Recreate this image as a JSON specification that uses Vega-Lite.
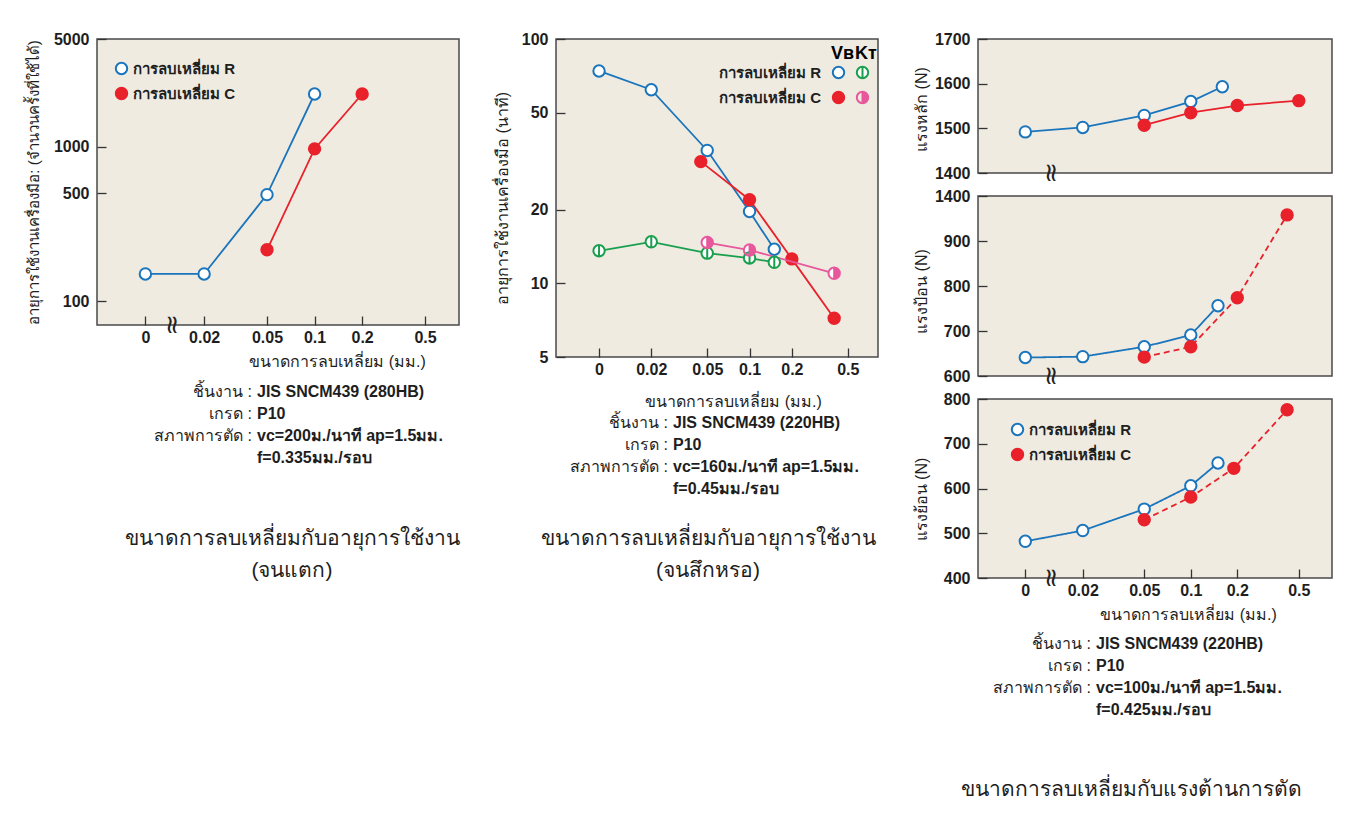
{
  "$schema": "https://vega.github.io/schema/vega-lite/v6.json",
  "background": "white",
  "padding": {"left": 25, "top": 30, "right": 5, "bottom": 5},
  "config": {
    "font": "Liberation Sans",
    "view": {"fill": "#EFEBE1", "stroke": "#4A4A4A", "strokeWidth": 1.5},
    "axis": {
      "domain": false, "grid": false, "tickSize": -9, "tickWidth": 1.3, "tickColor": "#333333",
      "labelFontSize": 16, "labelFontWeight": "bold", "labelColor": "#1E1E1E",
      "titleFontSize": 16, "titleFontWeight": "normal", "titleColor": "#1E1E1E"
    },
    "axisX": {"labelPadding": 13},
    "axisY": {"labelPadding": 17},
    "legend": {
      "padding": 0, "labelFontSize": 15, "labelFontWeight": "bold", "labelColor": "#1E1E1E",
      "symbolStrokeWidth": 2, "symbolSize": 130, "rowPadding": 4, "labelOffset": 4
    }
  },
  "datasets": {
    "chipping": [
      {"insert": "R", "hone": 0, "life": 150},
      {"insert": "R", "hone": 0.02, "life": 150},
      {"insert": "R", "hone": 0.05, "life": 490},
      {"insert": "R", "hone": 0.1, "life": 2200},
      {"insert": "C", "hone": 0.05, "life": 215},
      {"insert": "C", "hone": 0.1, "life": 970},
      {"insert": "C", "hone": 0.2, "life": 2200}
    ],
    "wear_vb": [
      {"insert": "R", "hone": 0, "life": 74},
      {"insert": "R", "hone": 0.02, "life": 62},
      {"insert": "R", "hone": 0.05, "life": 35},
      {"insert": "R", "hone": 0.1, "life": 19.7},
      {"insert": "R", "hone": 0.15, "life": 13.8},
      {"insert": "C", "hone": 0.045, "life": 31.5},
      {"insert": "C", "hone": 0.1, "life": 22},
      {"insert": "C", "hone": 0.2, "life": 12.6},
      {"insert": "C", "hone": 0.4, "life": 7.2}
    ],
    "wear_kt": [
      {"insert": "R", "hone": 0, "life": 13.6},
      {"insert": "R", "hone": 0.02, "life": 14.8},
      {"insert": "R", "hone": 0.05, "life": 13.3},
      {"insert": "R", "hone": 0.1, "life": 12.7},
      {"insert": "R", "hone": 0.15, "life": 12.2},
      {"insert": "C", "hone": 0.05, "life": 14.7},
      {"insert": "C", "hone": 0.1, "life": 13.7},
      {"insert": "C", "hone": 0.4, "life": 11.0}
    ],
    "force": [
      {"component": "main", "insert": "R", "hone": 0, "force": 1492},
      {"component": "main", "insert": "R", "hone": 0.02, "force": 1502},
      {"component": "main", "insert": "R", "hone": 0.05, "force": 1529},
      {"component": "main", "insert": "R", "hone": 0.1, "force": 1560},
      {"component": "main", "insert": "R", "hone": 0.16, "force": 1593},
      {"component": "main", "insert": "C", "hone": 0.05, "force": 1507},
      {"component": "main", "insert": "C", "hone": 0.1, "force": 1535},
      {"component": "main", "insert": "C", "hone": 0.2, "force": 1551},
      {"component": "main", "insert": "C", "hone": 0.5, "force": 1562},
      {"component": "feed", "insert": "R", "hone": 0, "force": 641},
      {"component": "feed", "insert": "R", "hone": 0.02, "force": 643},
      {"component": "feed", "insert": "R", "hone": 0.05, "force": 665},
      {"component": "feed", "insert": "R", "hone": 0.1, "force": 691},
      {"component": "feed", "insert": "R", "hone": 0.15, "force": 756},
      {"component": "feed", "insert": "C", "hone": 0.05, "force": 642},
      {"component": "feed", "insert": "C", "hone": 0.1, "force": 665},
      {"component": "feed", "insert": "C", "hone": 0.2, "force": 774},
      {"component": "feed", "insert": "C", "hone": 0.42, "force": 958},
      {"component": "back", "insert": "R", "hone": 0, "force": 482},
      {"component": "back", "insert": "R", "hone": 0.02, "force": 506},
      {"component": "back", "insert": "R", "hone": 0.05, "force": 554},
      {"component": "back", "insert": "R", "hone": 0.1, "force": 606},
      {"component": "back", "insert": "R", "hone": 0.15, "force": 657},
      {"component": "back", "insert": "C", "hone": 0.05, "force": 530},
      {"component": "back", "insert": "C", "hone": 0.1, "force": 581},
      {"component": "back", "insert": "C", "hone": 0.19, "force": 645},
      {"component": "back", "insert": "C", "hone": 0.42, "force": 776}
    ]
  },
  "spacing": 33,
  "bounds": "full",
  "resolve": {"scale": {"fill": "independent", "stroke": "independent", "shape": "independent"}, "legend": {"fill": "independent", "stroke": "independent", "shape": "independent"}},
  "hconcat": [
    {
      "spacing": 23,
      "bounds": "flush",
      "resolve": {"scale": {"fill": "independent", "stroke": "independent"}},
      "vconcat": [
        {
          "width": 362,
          "height": 286,
          "layer": [
            {
              "data": {"name": "chipping"},
              "transform": [{"calculate": "datum.hone === 0 ? 0.0085 : datum.hone", "as": "hx"}],
              "encoding": {
                "x": {"field": "hx", "type": "quantitative", "scale": {"type": "log", "domain": [0.0042, 0.82], "nice": false},
                  "axis": {"values": [0.0085, 0.02, 0.05, 0.1, 0.2, 0.5], "labelExpr": "datum.value < 0.01 ? '0' : format(datum.value, '~g')",
                    "title": "ขนาดการลบเหลี่ยม (มม.)", "titleX": 240, "titleY": 36, "titleBaseline": "middle", "titleAlign": "center"}},
                "y": {"field": "life", "type": "quantitative", "scale": {"type": "log", "domain": [70, 5000], "nice": false},
                  "axis": {"values": [100, 500, 1000, 5000], "format": "d", "title": "อายุการใช้งานเครื่องมือ: (จำนวนครั้งที่ใช้ได้)",
                    "titleX": -64, "titleY": 143, "titleAngle": -90, "titleBaseline": "middle", "titleAlign": "center", "titleFontSize": 15}}
              },
              "layer": [
                {"mark": {"type": "line", "strokeWidth": 1.8},
                 "encoding": {"detail": {"field": "insert"}, "color": {"condition": {"test": "datum.insert === 'R'", "value": "#1A75BC"}, "value": "#E8212B"}}},
                {"mark": {"type": "point", "filled": true, "opacity": 1, "size": 130, "strokeWidth": 2},
                 "encoding": {
                   "fill": {"field": "insert", "type": "nominal", "scale": {"domain": ["R", "C"], "range": ["#FFFFFF", "#E8212B"]},
                     "legend": {"orient": "none", "legendX": 17, "legendY": 22, "title": null, "labelExpr": "'การลบเหลี่ยม ' + datum.label"}},
                   "stroke": {"field": "insert", "type": "nominal", "scale": {"domain": ["R", "C"], "range": ["#1A75BC", "#E8212B"]},
                     "legend": {"orient": "none", "legendX": 17, "legendY": 22, "title": null, "labelExpr": "'การลบเหลี่ยม ' + datum.label"}}
                 }}
              ]
            },
            {
              "data": {"values": [{}]},
              "mark": {"type": "text", "text": "≈", "angle": 90, "fontSize": 26, "font": "DejaVu Sans", "color": "#222222", "baseline": "middle", "align": "center"},
              "encoding": {"x": {"datum": 0.0125, "type": "quantitative"}, "y": {"datum": 70, "type": "quantitative"}}
            }
          ]
        },
        {
          "width": 362,
          "height": 170,
          "view": {"stroke": null, "fill": null},
          "title": {"text": ["ขนาดการลบเหลี่ยมกับอายุการใช้งาน", "(จนแตก)"], "orient": "bottom", "anchor": "middle", "offset": 10, "dx": 14,
            "fontSize": 21, "fontWeight": "normal", "color": "#1E1E1E", "lineHeight": 32, "baseline": "top"},
          "data": {"values": [
            {"line": 1, "key": "ชิ้นงาน :", "val": "JIS SNCM439  (280HB)"},
            {"line": 2, "key": "เกรด :", "val": "P10"},
            {"line": 3, "key": "สภาพการตัด :", "val": "vc=200ม./นาที  ap=1.5มม."},
            {"line": 4, "key": "", "val": "f=0.335มม./รอบ"}
          ]},
          "encoding": {"y": {"field": "line", "type": "quantitative", "scale": {"domain": [1, 4], "range": [44, 110]}, "axis": null}},
          "layer": [
            {"mark": {"type": "text", "align": "right", "baseline": "middle", "fontSize": 16, "color": "#1E1E1E"},
             "encoding": {"x": {"datum": "k", "type": "nominal", "scale": {"type": "point", "domain": ["k", "v"], "range": [155, 160], "padding": 0}, "axis": null}, "text": {"field": "key"}}},
            {"mark": {"type": "text", "align": "left", "baseline": "middle", "fontSize": 16, "fontWeight": "bold", "color": "#1E1E1E"},
             "encoding": {"x": {"datum": "v", "type": "nominal", "scale": {"type": "point", "domain": ["k", "v"], "range": [155, 160], "padding": 0}, "axis": null}, "text": {"field": "val"}}}
          ]
        }
      ]
    },
    {
      "spacing": 23,
      "bounds": "flush",
      "vconcat": [
        {
          "width": 322,
          "height": 318,
          "encoding": {
            "x": {"field": "hx", "type": "quantitative", "scale": {"type": "log", "domain": [0.0042, 0.82], "nice": false},
              "axis": {"values": [0.0085, 0.02, 0.05, 0.1, 0.2, 0.5], "labelExpr": "datum.value < 0.01 ? '0' : format(datum.value, '~g')",
                "title": "ขนาดการลบเหลี่ยม (มม.)", "titleX": 177, "titleY": 44, "titleBaseline": "middle", "titleAlign": "center"}},
            "y": {"field": "life", "type": "quantitative", "scale": {"type": "log", "domain": [5, 100], "nice": false},
              "axis": {"values": [5, 10, 20, 50, 100], "format": "d", "title": "อายุการใช้งานเครื่องมือ (นาที)",
                "titleX": -54, "titleY": 159, "titleAngle": -90, "titleBaseline": "middle", "titleAlign": "center"}}
          },
          "layer": [
            {
              "data": {"name": "wear_vb"},
              "transform": [{"calculate": "datum.hone === 0 ? 0.0085 : datum.hone", "as": "hx"}],
              "layer": [
                {"mark": {"type": "line", "strokeWidth": 1.8},
                 "encoding": {"detail": {"field": "insert"}, "color": {"condition": {"test": "datum.insert === 'R'", "value": "#1A75BC"}, "value": "#E8212B"}}},
                {"mark": {"type": "point", "filled": true, "opacity": 1, "size": 130, "strokeWidth": 2},
                 "encoding": {
                   "fill": {"field": "insert", "type": "nominal", "scale": {"domain": ["R", "C"], "range": ["#FFFFFF", "#E8212B"]},
                     "legend": {"orient": "none", "legendX": 275, "legendY": 6, "title": "Vʙ", "titleFontSize": 18, "titleFontWeight": "bold", "titlePadding": 2,
                       "labelAlign": "right", "labelOffset": -25, "labelExpr": "'การลบเหลี่ยม ' + datum.label"}},
                   "stroke": {"field": "insert", "type": "nominal", "scale": {"domain": ["R", "C"], "range": ["#1A75BC", "#E8212B"]},
                     "legend": {"orient": "none", "legendX": 275, "legendY": 6, "title": "Vʙ", "titleFontSize": 18, "titleFontWeight": "bold", "titlePadding": 2,
                       "labelAlign": "right", "labelOffset": -25, "labelExpr": "'การลบเหลี่ยม ' + datum.label"}}
                 }}
              ]
            },
            {
              "data": {"name": "wear_kt"},
              "transform": [{"calculate": "datum.hone === 0 ? 0.0085 : datum.hone", "as": "hx"}],
              "layer": [
                {"mark": {"type": "line", "strokeWidth": 1.8},
                 "encoding": {"detail": {"field": "insert"}, "color": {"condition": {"test": "datum.insert === 'R'", "value": "#1A9F4E"}, "value": "#E8579C"}}},
                {"mark": {"type": "point", "filled": true, "opacity": 1, "size": 130, "color": "#FFFFFF", "strokeWidth": 0}},
                {"mark": {"type": "point", "filled": true, "opacity": 1, "size": 130, "strokeWidth": 2},
                 "encoding": {
                   "shape": {"field": "insert", "type": "nominal",
                     "scale": {"domain": ["R", "C"], "range": ["M-1,0A1,1,0,1,1,1,0A1,1,0,1,1,-1,0ZM0,-1L0,1", "M-1,0A1,1,0,1,1,1,0A1,1,0,1,1,-1,0ZM0,-1A1,1,0,0,0,0,1Z"]},
                     "legend": {"orient": "none", "legendX": 299, "legendY": 6, "title": "Kᴛ", "titleFontSize": 18, "titleFontWeight": "bold", "titlePadding": 2, "labelExpr": "''"}},
                   "fill": {"field": "insert", "type": "nominal", "scale": {"domain": ["R", "C"], "range": ["#FFFFFF", "#E8579C"]},
                     "legend": {"orient": "none", "legendX": 299, "legendY": 6, "title": "Kᴛ", "titleFontSize": 18, "titleFontWeight": "bold", "titlePadding": 2, "labelExpr": "''"}},
                   "stroke": {"field": "insert", "type": "nominal", "scale": {"domain": ["R", "C"], "range": ["#1A9F4E", "#E8579C"]},
                     "legend": {"orient": "none", "legendX": 299, "legendY": 6, "title": "Kᴛ", "titleFontSize": 18, "titleFontWeight": "bold", "titlePadding": 2, "labelExpr": "''"}}
                 }}
              ]
            },
            {
              "data": {"values": [{}]},
              "mark": {"type": "text", "text": "≈", "angle": 90, "fontSize": 26, "font": "DejaVu Sans", "color": "#222222", "baseline": "middle", "align": "center"},
              "encoding": {"x": {"datum": 0.0125, "type": "quantitative"}, "y": {"datum": 5, "type": "quantitative"}}
            }
          ],
          "resolve": {"scale": {"fill": "independent", "stroke": "independent", "shape": "independent"}, "legend": {"fill": "independent", "stroke": "independent", "shape": "independent"}}
        },
        {
          "width": 322,
          "height": 138,
          "view": {"stroke": null, "fill": null},
          "title": {"text": ["ขนาดการลบเหลี่ยมกับอายุการใช้งาน", "(จนสึกหรอ)"], "orient": "bottom", "anchor": "middle", "offset": 10, "dx": -9,
            "fontSize": 21, "fontWeight": "normal", "color": "#1E1E1E", "lineHeight": 32, "baseline": "top"},
          "data": {"values": [
            {"line": 1, "key": "ชิ้นงาน :", "val": "JIS SNCM439  (220HB)"},
            {"line": 2, "key": "เกรด :", "val": "P10"},
            {"line": 3, "key": "สภาพการตัด :", "val": "vc=160ม./นาที  ap=1.5มม."},
            {"line": 4, "key": "", "val": "f=0.45มม./รอบ"}
          ]},
          "encoding": {"y": {"field": "line", "type": "quantitative", "scale": {"domain": [1, 4], "range": [43, 109]}, "axis": null}},
          "layer": [
            {"mark": {"type": "text", "align": "right", "baseline": "middle", "fontSize": 16, "color": "#1E1E1E"},
             "encoding": {"x": {"datum": "k", "type": "nominal", "scale": {"type": "point", "domain": ["k", "v"], "range": [112, 117], "padding": 0}, "axis": null}, "text": {"field": "key"}}},
            {"mark": {"type": "text", "align": "left", "baseline": "middle", "fontSize": 16, "fontWeight": "bold", "color": "#1E1E1E"},
             "encoding": {"x": {"datum": "v", "type": "nominal", "scale": {"type": "point", "domain": ["k", "v"], "range": [112, 117], "padding": 0}, "axis": null}, "text": {"field": "val"}}}
          ]
        }
      ]
    },
    {
      "spacing": 23,
      "bounds": "flush",
      "resolve": {"scale": {"fill": "independent", "stroke": "independent"}},
      "vconcat": [
        {
          "width": 354,
          "height": 134,
          "layer": [
            {
              "data": {"name": "force"},
              "transform": [{"filter": "datum.component === 'main'"}, {"calculate": "datum.hone === 0 ? 0.0085 : datum.hone", "as": "hx"}],
              "encoding": {
                "x": {"field": "hx", "type": "quantitative", "scale": {"type": "log", "domain": [0.0042, 0.82], "nice": false}, "axis": null},
                "y": {"field": "force", "type": "quantitative", "scale": {"domain": [1400, 1700], "nice": false},
                  "axis": {"values": [1400, 1500, 1600, 1700], "format": "d", "title": "แรงหลัก (N)",
                    "titleX": -57, "titleY": 70, "titleAngle": -90, "titleBaseline": "middle", "titleAlign": "center"}}
              },
              "layer": [
                {"mark": {"type": "line", "strokeWidth": 1.8},
                 "encoding": {"detail": {"field": "insert"}, "color": {"condition": {"test": "datum.insert === 'R'", "value": "#1A75BC"}, "value": "#E8212B"}}},
                {"mark": {"type": "point", "filled": true, "opacity": 1, "size": 130, "strokeWidth": 2},
                 "encoding": {
                   "fill": {"field": "insert", "type": "nominal", "scale": {"domain": ["R", "C"], "range": ["#FFFFFF", "#E8212B"]}, "legend": null},
                   "stroke": {"field": "insert", "type": "nominal", "scale": {"domain": ["R", "C"], "range": ["#1A75BC", "#E8212B"]}, "legend": null}
                 }}
              ]
            },
            {
              "data": {"values": [{}]},
              "mark": {"type": "text", "text": "≈", "angle": 90, "fontSize": 26, "font": "DejaVu Sans", "color": "#222222", "baseline": "middle", "align": "center"},
              "encoding": {"x": {"datum": 0.0125, "type": "quantitative"}, "y": {"datum": 1400, "type": "quantitative"}}
            }
          ]
        },
        {
          "width": 354,
          "height": 180,
          "layer": [
            {
              "data": {"name": "force"},
              "transform": [{"filter": "datum.component === 'feed'"}, {"calculate": "datum.hone === 0 ? 0.0085 : datum.hone", "as": "hx"}],
              "encoding": {
                "x": {"field": "hx", "type": "quantitative", "scale": {"type": "log", "domain": [0.0042, 0.82], "nice": false}, "axis": null},
                "y": {"field": "force", "type": "quantitative", "scale": {"domain": [600, 1000], "nice": false},
                  "axis": {"values": [600, 700, 800, 900, 1000], "labelExpr": "datum.value == 1000 ? '1400' : format(datum.value, 'd')", "title": "แรงป้อน  (N)",
                    "titleX": -57, "titleY": 95, "titleAngle": -90, "titleBaseline": "middle", "titleAlign": "center"}}
              },
              "layer": [
                {"mark": {"type": "line", "strokeWidth": 1.8},
                 "encoding": {
                   "detail": {"field": "insert"},
                   "color": {"condition": {"test": "datum.insert === 'R'", "value": "#1A75BC"}, "value": "#E8212B"},
                   "strokeDash": {"condition": {"test": "datum.insert === 'C'", "value": [6, 4]}, "value": [1, 0]}
                 }},
                {"mark": {"type": "point", "filled": true, "opacity": 1, "size": 130, "strokeWidth": 2},
                 "encoding": {
                   "fill": {"field": "insert", "type": "nominal", "scale": {"domain": ["R", "C"], "range": ["#FFFFFF", "#E8212B"]}, "legend": null},
                   "stroke": {"field": "insert", "type": "nominal", "scale": {"domain": ["R", "C"], "range": ["#1A75BC", "#E8212B"]}, "legend": null}
                 }}
              ]
            },
            {
              "data": {"values": [{}]},
              "mark": {"type": "text", "text": "≈", "angle": 90, "fontSize": 26, "font": "DejaVu Sans", "color": "#222222", "baseline": "middle", "align": "center"},
              "encoding": {"x": {"datum": 0.0125, "type": "quantitative"}, "y": {"datum": 600, "type": "quantitative"}}
            }
          ]
        },
        {
          "width": 354,
          "height": 179,
          "layer": [
            {
              "data": {"name": "force"},
              "transform": [{"filter": "datum.component === 'back'"}, {"calculate": "datum.hone === 0 ? 0.0085 : datum.hone", "as": "hx"}],
              "encoding": {
                "x": {"field": "hx", "type": "quantitative", "scale": {"type": "log", "domain": [0.0042, 0.82], "nice": false},
                  "axis": {"values": [0.0085, 0.02, 0.05, 0.1, 0.2, 0.5], "labelExpr": "datum.value < 0.01 ? '0' : format(datum.value, '~g')",
                    "title": "ขนาดการลบเหลี่ยม (มม.)", "titleX": 210, "titleY": 36, "titleBaseline": "middle", "titleAlign": "center"}},
                "y": {"field": "force", "type": "quantitative", "scale": {"domain": [400, 800], "nice": false},
                  "axis": {"values": [400, 500, 600, 700, 800], "format": "d", "title": "แรงย้อน (N)",
                    "titleX": -57, "titleY": 100, "titleAngle": -90, "titleBaseline": "middle", "titleAlign": "center"}}
              },
              "layer": [
                {"mark": {"type": "line", "strokeWidth": 1.8},
                 "encoding": {
                   "detail": {"field": "insert"},
                   "color": {"condition": {"test": "datum.insert === 'R'", "value": "#1A75BC"}, "value": "#E8212B"},
                   "strokeDash": {"condition": {"test": "datum.insert === 'C'", "value": [6, 4]}, "value": [1, 0]}
                 }},
                {"mark": {"type": "point", "filled": true, "opacity": 1, "size": 130, "strokeWidth": 2},
                 "encoding": {
                   "fill": {"field": "insert", "type": "nominal", "scale": {"domain": ["R", "C"], "range": ["#FFFFFF", "#E8212B"]},
                     "legend": {"orient": "none", "legendX": 32, "legendY": 23, "title": null, "labelExpr": "'การลบเหลี่ยม ' + datum.label"}},
                   "stroke": {"field": "insert", "type": "nominal", "scale": {"domain": ["R", "C"], "range": ["#1A75BC", "#E8212B"]},
                     "legend": {"orient": "none", "legendX": 32, "legendY": 23, "title": null, "labelExpr": "'การลบเหลี่ยม ' + datum.label"}}
                 }}
              ]
            },
            {
              "data": {"values": [{}]},
              "mark": {"type": "text", "text": "≈", "angle": 90, "fontSize": 26, "font": "DejaVu Sans", "color": "#222222", "baseline": "middle", "align": "center"},
              "encoding": {"x": {"datum": 0.0125, "type": "quantitative"}, "y": {"datum": 400, "type": "quantitative"}}
            }
          ]
        },
        {
          "width": 354,
          "height": 168,
          "view": {"stroke": null, "fill": null},
          "title": {"text": "ขนาดการลบเหลี่ยมกับแรงต้านการตัด", "orient": "bottom", "anchor": "middle", "offset": 10, "dx": -24,
            "fontSize": 21, "fontWeight": "normal", "color": "#1E1E1E", "lineHeight": 32, "baseline": "top"},
          "data": {"values": [
            {"line": 1, "key": "ชิ้นงาน :", "val": "JIS SNCM439  (220HB)"},
            {"line": 2, "key": "เกรด :", "val": "P10"},
            {"line": 3, "key": "สภาพการตัด :", "val": "vc=100ม./นาที  ap=1.5มม."},
            {"line": 4, "key": "", "val": "f=0.425มม./รอบ"}
          ]},
          "encoding": {"y": {"field": "line", "type": "quantitative", "scale": {"domain": [1, 4], "range": [43, 109]}, "axis": null}},
          "layer": [
            {"mark": {"type": "text", "align": "right", "baseline": "middle", "fontSize": 16, "color": "#1E1E1E"},
             "encoding": {"x": {"datum": "k", "type": "nominal", "scale": {"type": "point", "domain": ["k", "v"], "range": [113, 118], "padding": 0}, "axis": null}, "text": {"field": "key"}}},
            {"mark": {"type": "text", "align": "left", "baseline": "middle", "fontSize": 16, "fontWeight": "bold", "color": "#1E1E1E"},
             "encoding": {"x": {"datum": "v", "type": "nominal", "scale": {"type": "point", "domain": ["k", "v"], "range": [113, 118], "padding": 0}, "axis": null}, "text": {"field": "val"}}}
          ]
        }
      ]
    }
  ]
}
